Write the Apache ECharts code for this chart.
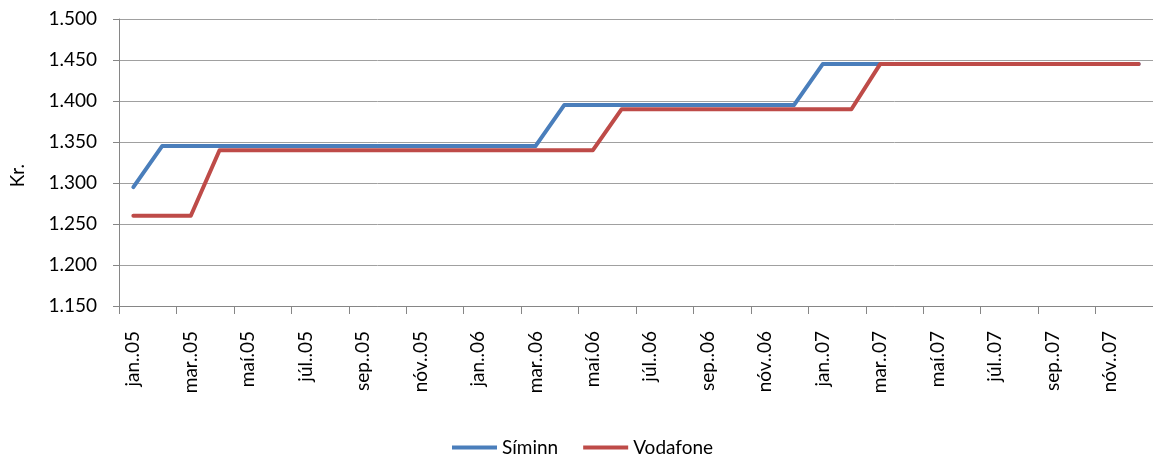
<!DOCTYPE html>
<html><head><meta charset="utf-8">
<script src="https://cdn.jsdelivr.net/npm/echarts@6/dist/echarts.min.js"></script>
<style>html,body{margin:0;padding:0;background:#fff}#c{width:1153px;height:455px}</style>
</head><body><div id="c"></div>
<script>
const categories = [
 'jan..05','feb..05','mar..05','apr..05','maí.05','jún..05','júl..05','ágú..05','sep..05','okt..05','nóv..05','des..05',
 'jan..06','feb..06','mar..06','apr..06','maí.06','jún..06','júl..06','ágú..06','sep..06','okt..06','nóv..06','des..06',
 'jan..07','feb..07','mar..07','apr..07','maí.07','jún..07','júl..07','ágú..07','sep..07','okt..07','nóv..07','des..07'];
const siminn = [1295,1345,1345,1345,1345,1345,1345,1345,1345,1345,1345,1345,
 1345,1345,1345,1395,1395,1395,1395,1395,1395,1395,1395,1395,
 1445,1445,1445,1445,1445,1445,1445,1445,1445,1445,1445,1445];
const vodafone = [1260,1260,1260,1340,1340,1340,1340,1340,1340,1340,1340,1340,
 1340,1340,1340,1340,1340,1390,1390,1390,1390,1390,1390,1390,
 1390,1390,1445,1445,1445,1445,1445,1445,1445,1445,1445,1445];
const seriesNames = ['Síminn','Vodafone'];
const yTicks = {min:1150, max:1500, step:50};
const yTitle = 'Kr.';

const FONT = 'Lato';
const FS = 19;
const chart = echarts.init(document.getElementById('c'));
chart.setOption({
  animation:false,
  textStyle:{fontFamily:FONT},
  grid:{left:119, top:19, width:1040, height:287, containLabel:false},
  xAxis:{
    type:'category', data:categories, boundaryGap:true,
    axisLine:{lineStyle:{color:'#868686', width:1}},
    axisTick:{show:true, interval:1, length:8, lineStyle:{color:'#868686'}},
    axisLabel:{interval:1, rotate:90, margin:25, fontSize:FS, color:'#000', fontFamily:FONT},
    splitLine:{show:false}
  },
  yAxis:{
    type:'value', min:yTicks.min, max:yTicks.max, interval:yTicks.step,
    axisLine:{show:true, lineStyle:{color:'#868686', width:1}},
    axisTick:{show:true, length:6, lineStyle:{color:'#868686'}},
    axisLabel:{margin:22, fontSize:FS, color:'#000', fontFamily:FONT,
      formatter:v=>Math.floor(v/1000)+'.'+String(v%1000).padStart(3,'0')},
    splitLine:{show:true, lineStyle:{color:'#a0a0a0', width:1}}
  },
  graphic:[{type:'text', left:8, top:164, rotation:Math.PI/2,
    style:{text:yTitle, font:FS+'px '+FONT, fill:'#000'}}],
  legend:{
    left:447, top:433, itemWidth:45, itemHeight:4, itemGap:25, icon:'rect',
    textStyle:{fontSize:FS, color:'#000', fontFamily:FONT, padding:[0,0,0,0]},
    data:seriesNames
  },
  series:[
    {name:seriesNames[0], type:'line', data:siminn, showSymbol:false, symbol:'none',
     lineStyle:{color:'#4A7EBB', width:4, cap:'round', join:'round'}, itemStyle:{color:'#4A7EBB'}},
    {name:seriesNames[1], type:'line', data:vodafone, showSymbol:false, symbol:'none',
     lineStyle:{color:'#BE4B48', width:4, cap:'round', join:'round'}, itemStyle:{color:'#BE4B48'}}
  ]
});
</script></body></html>
